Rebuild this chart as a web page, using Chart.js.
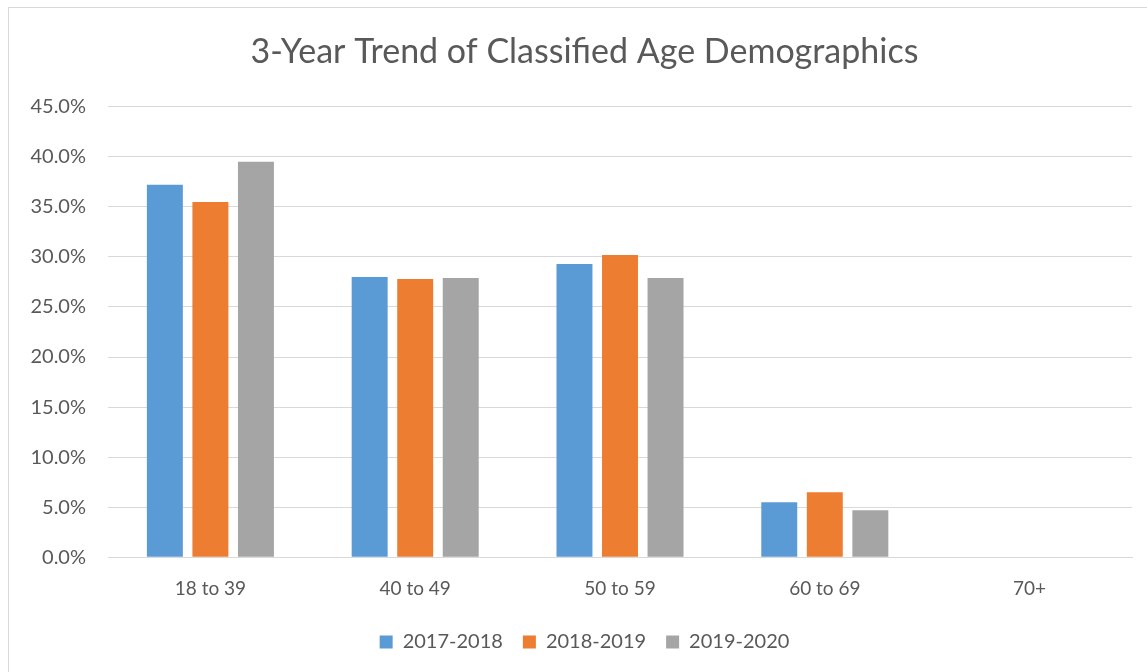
<!DOCTYPE html>
<html>
<head>
<meta charset="utf-8">
<script src="https://cdn.jsdelivr.net/npm/chart.js@4/dist/chart.umd.min.js"></script>
<style>
  html, body { margin: 0; padding: 0; background: #fff; overflow: hidden; }
  #frame { position: absolute; left: 0; top: 0; width: 1147px; height: 672px; overflow: hidden; }
  #border { position: absolute; left: 8px; top: 7px; width: 1160px; height: 700px; border: 1px solid #d9d9d9; box-sizing: border-box; pointer-events: none; }
  canvas { position: absolute; left: 0; top: 0; }
</style>
</head>
<body>
<div id="frame">
  <canvas id="c" width="1161" height="672"></canvas>
  <div id="border"></div>
</div>
<script>
const categories = ["18 to 39", "40 to 49", "50 to 59", "60 to 69", "70+"];
const seriesNames = ["2017-2018", "2018-2019", "2019-2020"];
const values2017 = [37.2, 28.0, 29.3, 5.5, 0];
const values2018 = [35.5, 27.8, 30.2, 6.5, 0];
const values2019 = [39.5, 27.9, 27.9, 4.7, 0];
const seriesColors = ["#5B9BD5", "#ED7D31", "#A5A5A5"];
const yMax = 45;
const yStep = 5;
const titleText = "3-Year Trend of Classified Age Demographics";

const textColor = "#595959";
const fontFamily = "Lato, 'Open Sans', sans-serif";

const seriesValues = [values2017, values2018, values2019];
const datasets = seriesNames.map((name, i) => ({
  label: name,
  data: seriesValues[i],
  backgroundColor: seriesColors[i],
  borderWidth: 0,
  categoryPercentage: 0.667,
  barPercentage: 0.79,
  yAxisID: "y"
}));

new Chart(document.getElementById("c"), {
  type: "bar",
  data: { labels: categories, datasets: datasets },
  options: {
    responsive: false,
    animation: false,
    layout: { padding: { left: 8, right: 0, top: 24, bottom: 10 } },
    plugins: {
      title: {
        display: true,
        text: titleText,
        color: textColor,
        font: { family: fontFamily, size: 34, weight: "normal" },
        padding: { top: 8, bottom: 34 }
      },
      legend: {
        position: "bottom",
        labels: {
          color: textColor,
          font: { family: fontFamily, size: 20 },
          boxWidth: 13,
          boxHeight: 13,
          padding: 20
        }
      },
      tooltip: { enabled: false }
    },
    scales: {
      x: {
        grid: { display: false },
        border: { display: true, color: "#d9d9d9", width: 1 },
        ticks: { color: textColor, font: { family: fontFamily, size: 19 }, padding: 12 }
      },
      y: {
        min: 0,
        max: yMax,
        afterFit: (s) => { s.width = 100; },
        grid: { color: "#d9d9d9", lineWidth: 1, drawTicks: false },
        border: { display: false },
        ticks: {
          stepSize: yStep,
          color: textColor,
          font: { family: fontFamily, size: 20 },
          padding: 22,
          callback: (v) => v.toFixed(1) + "%"
        }
      },
      ySpacer: {
        position: "right",
        display: true,
        min: 0,
        max: yMax,
        afterFit: (s) => { s.width = 29; },
        grid: { display: false, drawOnChartArea: false },
        border: { display: false },
        ticks: { display: false }
      }
    }
  }
});
</script>
</body>
</html>
